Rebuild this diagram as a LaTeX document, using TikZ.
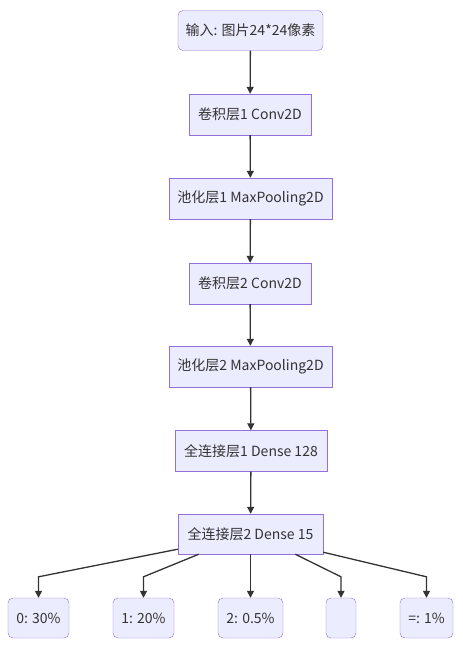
\documentclass[tikz,border=0pt]{standalone}
\usepackage{fontspec}
\setmainfont{Noto Sans CJK SC}
\usepackage{xcolor}
\usetikzlibrary{calc,arrows.meta}
\definecolor{boxfill}{HTML}{ECECFF}
\definecolor{boxline}{HTML}{9370DB}
\definecolor{ink}{HTML}{333333}
\tikzset{
	layer/.style={draw=boxline,fill=boxfill,text=ink,minimum height=41pt,inner sep=0pt,font=\fontsize{14}{16}\selectfont},
	roundlayer/.style={layer,rounded corners=5pt},
	flow/.style={draw=ink,line width=1.3pt,-{Triangle[length=7pt,width=7pt]}}
}

\begin{document}
\begin{tikzpicture}[x=1pt,y=-1pt]
		\useasboundingbox (0,0) rectangle (463,648);
		
		\node[roundlayer,minimum width=145pt,minimum height=40pt] (in) at (250.5,30.5) {输入: 图片24*24像素};
		\node[layer,minimum width=122pt] (c1) at (250,114.5) {卷积层1 Conv2D};
		\node[layer,minimum width=163pt] (p1) at (250.5,198.5) {池化层1 MaxPooling2D};
		\node[layer,minimum width=122pt] (c2) at (250,283.5) {卷积层2 Conv2D};
		\node[layer,minimum width=163pt] (p2) at (250.5,366.5) {池化层2 MaxPooling2D};
		\node[layer,minimum width=152pt] (d1) at (251,451) {全连接层1 Dense 128};
		\node[layer,minimum width=145pt,minimum height=40pt] (d2) at (250.5,534) {全连接层2 Dense 15};
		
		\draw[flow] (in) -- (c1);
		\draw[flow] (c1) -- (p1);
		\draw[flow] (p1) -- (c2);
		\draw[flow] (c2) -- (p2);
		\draw[flow] (p2) -- (d1);
		\draw[flow] (d1) -- (d2);
		
		% output classes
		\node[roundlayer,minimum width=61pt,minimum height=40pt] (n0) at (38.5,618) {0: 30\%};
		\node[roundlayer,minimum width=61pt,minimum height=40pt] (n1) at (143.5,618) {1: 20\%};
		\node[roundlayer,minimum width=65pt,minimum height=40pt] (n2) at (250.5,618) {2: 0.5\%};
		\node[roundlayer,minimum width=30pt,minimum height=40pt] (n3) at (341,618) {};
		\node[roundlayer,minimum width=53pt,minimum height=40pt] (n4) at (426.5,618) {=: 1\%};
		
		\draw[flow] ($(d2.south west)+(0,-5)$) -- ($(n0.north)+(0,-21)$) -- (n0.north);
		\draw[flow] ($(d2.south west)+(21,0)$) -- ($(n1.north)+(0,-21)$) -- (n1.north);
		\draw[flow] (d2.south) -- (n2.north);
		\draw[flow] ($(d2.south east)+(-28,0)$) -- ($(n3.north)+(0,-21)$) -- (n3.north);
		\draw[flow] ($(d2.south east)+(0,-2)$) -- ($(n4.north)+(0,-21)$) -- (n4.north);
	\end{tikzpicture}
\end{document}
